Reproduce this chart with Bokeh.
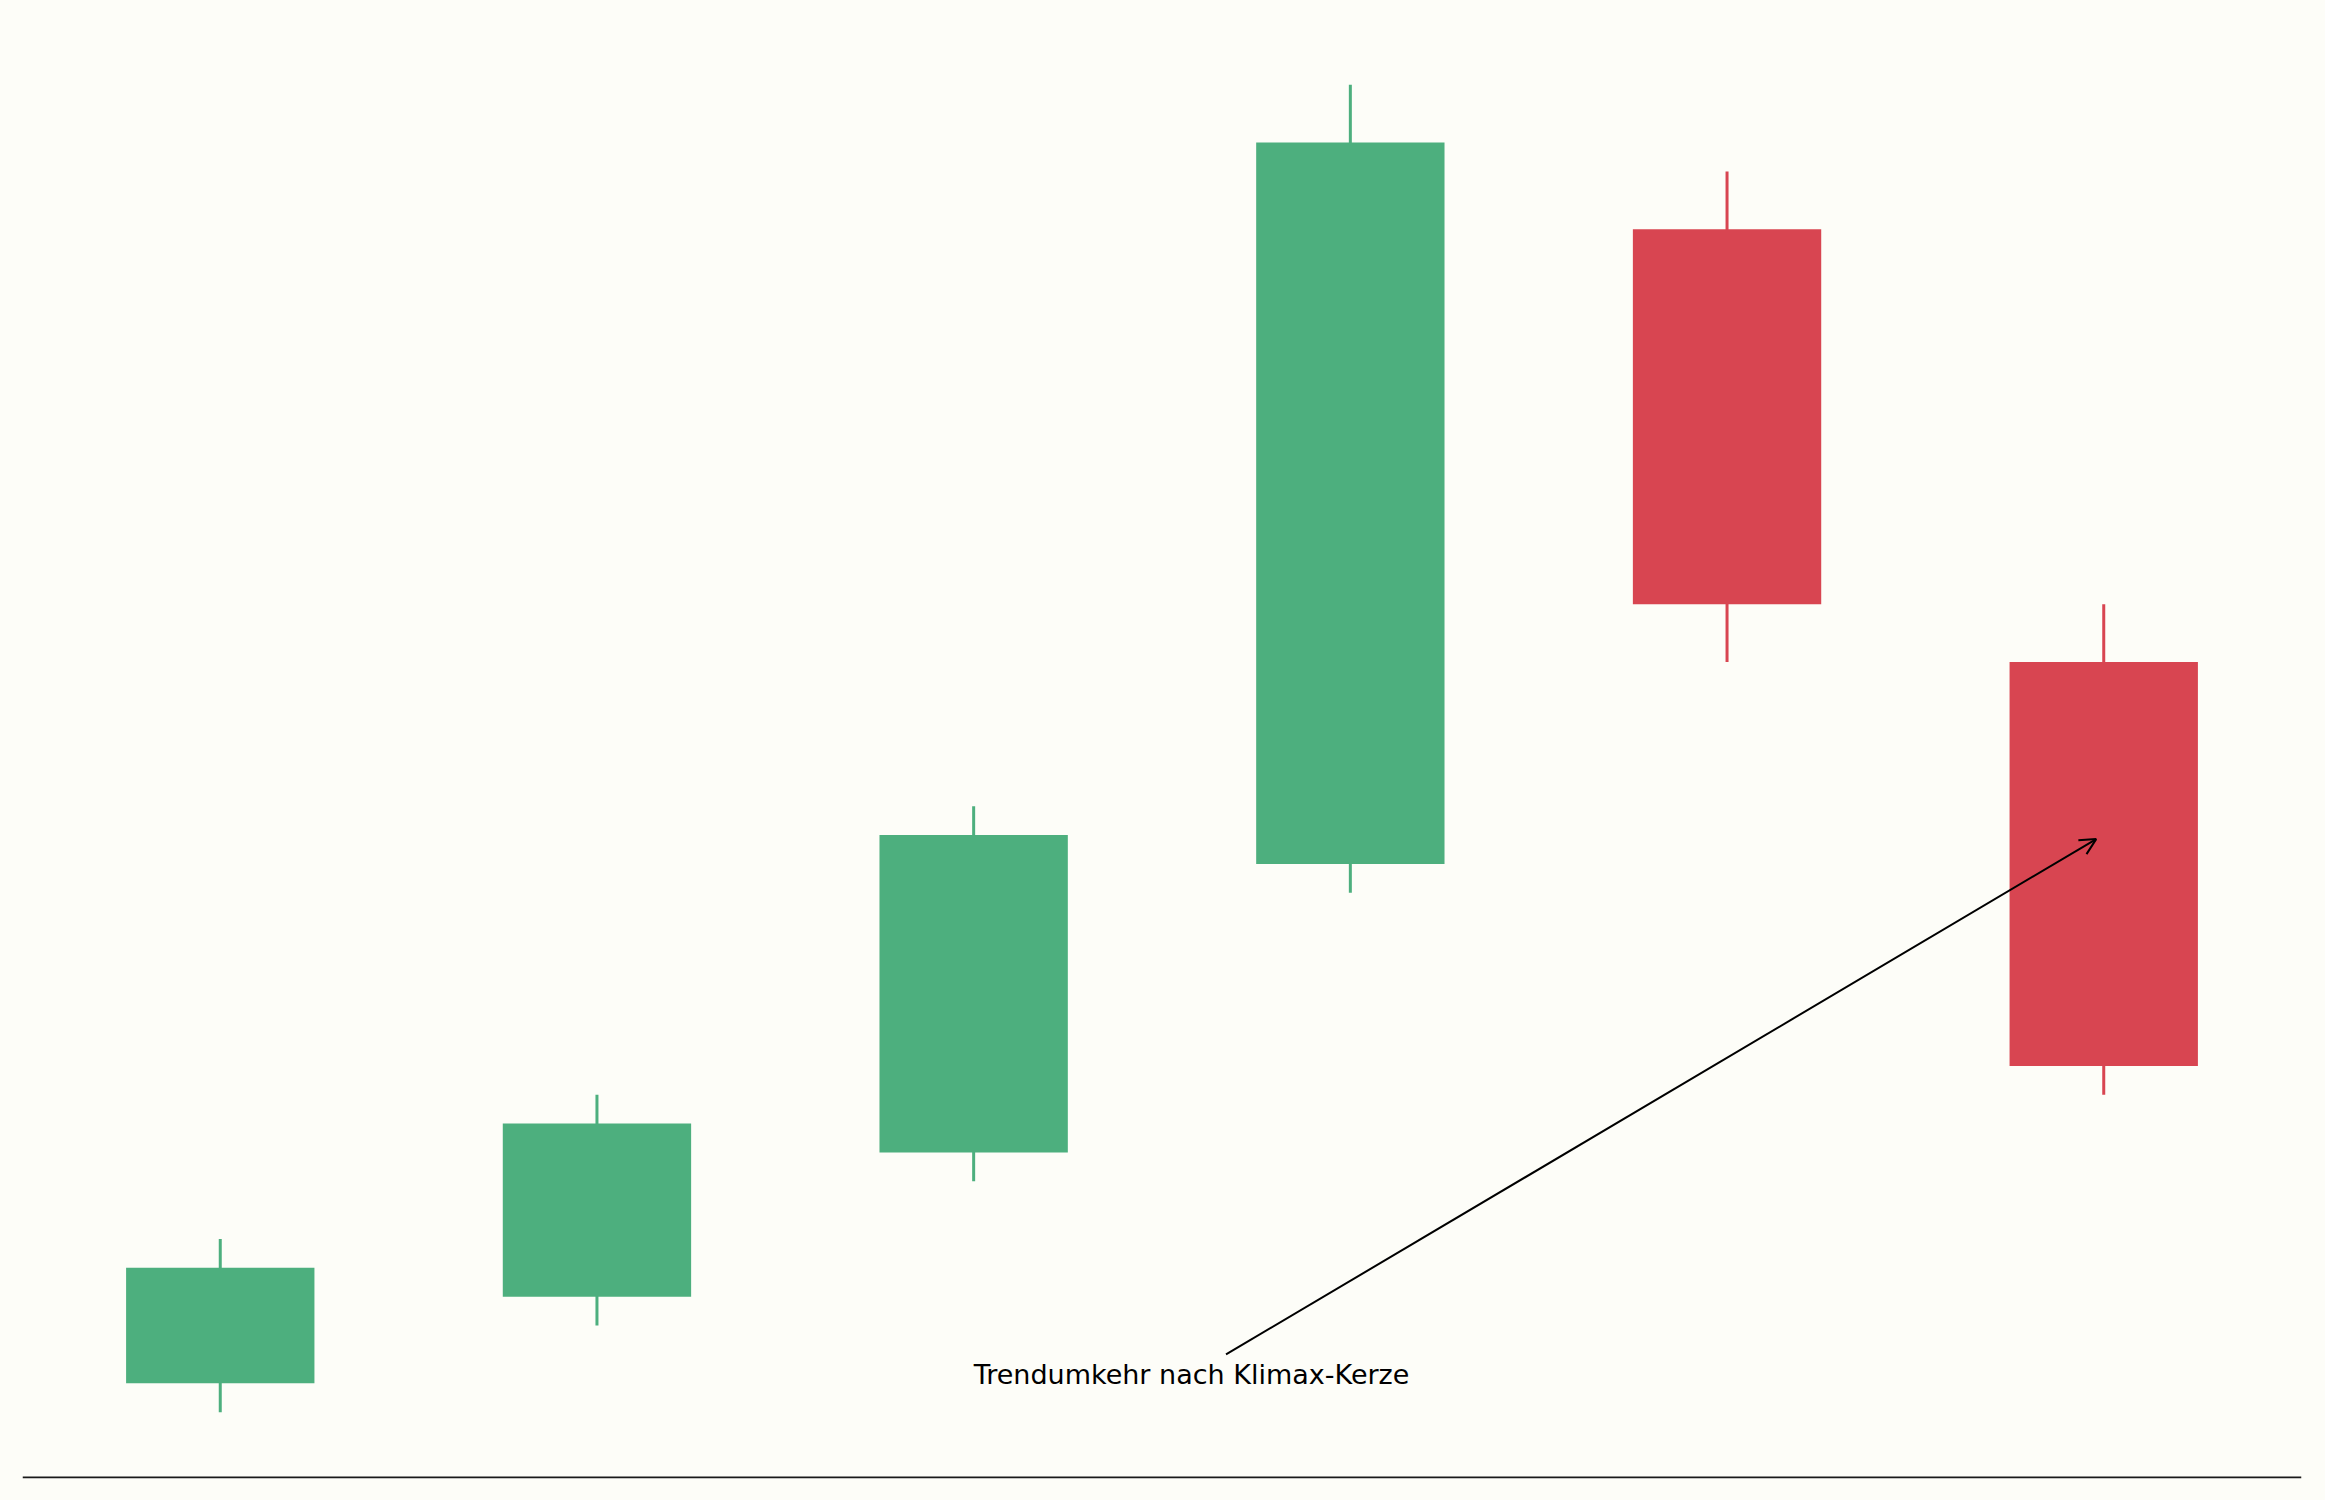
from bokeh.plotting import figure
from bokeh.models import Range1d, Span, Arrow, OpenHead, ColumnDataSource
from bokeh.core.properties import value
from bokeh.embed import file_html
from bokeh.resources import INLINE

# ---- data ----
idx = [0, 1, 2, 3, 4, 5]
opens = [100.0, 101.5, 104.0, 109.0, 120.0, 112.5]
closes = [102.0, 104.5, 109.5, 121.5, 113.5, 105.5]
highs = [102.5, 105.0, 110.0, 122.5, 121.0, 113.5]
lows = [99.5, 101.0, 103.5, 108.5, 112.5, 105.0]

annotation_text = "Trendumkehr nach Klimax-Kerze"
annotation_text_pos = (2.0, 100.0)
annotation_arrow_start = (2.67, 100.5)
annotation_arrow_end = (4.98, 109.43)

GREEN = "#4daf7e"
RED = "#d84551"
BG = "#fdfdf8"

colors = [GREEN if c >= o else RED for o, c in zip(opens, closes)]
src = ColumnDataSource(dict(
    x=idx,
    top=[max(o, c) for o, c in zip(opens, closes)],
    bottom=[min(o, c) for o, c in zip(opens, closes)],
    high=highs,
    low=lows,
    color=colors,
))

y_lo = min(lows) - 0.05 * (max(highs) - min(lows))
y_hi = max(highs) + 0.05 * (max(highs) - min(lows))
x_lo = -0.25 - 0.05 * 5.5
x_hi = 5.25 + 0.05 * 5.5

PLOT_H = 1492
BORDER_TOP, BORDER_BOTTOM = 18, 14
px_per_unit = (PLOT_H - BORDER_TOP - BORDER_BOTTOM) / (y_hi - y_lo)

p = figure(width=2317, height=PLOT_H, output_backend="svg", toolbar_location=None,
           x_range=Range1d(x_lo, x_hi), y_range=Range1d(y_lo, y_hi),
           min_border_left=22, min_border_right=16,
           min_border_top=BORDER_TOP, min_border_bottom=BORDER_BOTTOM)
p.background_fill_color = BG
p.border_fill_color = BG
p.outline_line_color = None
p.xaxis.visible = False
p.yaxis.visible = False
p.xgrid.visible = False
p.ygrid.visible = False

p.segment(x0="x", y0="low", x1="x", y1="high", source=src, line_color="color", line_width=3)
p.vbar(x="x", width=0.5, top="top", bottom="bottom", source=src,
       fill_color="color", line_color=None)

# bottom spine, kept fully inside the frame so it is not clipped
p.add_layout(Span(location=y_lo + 1.0 / px_per_unit, dimension="width",
                  line_color="#1a1a1a", line_width=2))

p.text(x=[annotation_text_pos[0]], y=[annotation_text_pos[1]], text=[annotation_text],
       text_font=value("DejaVu Sans"), text_font_size="27px", text_color="black",
       text_align="left", text_baseline="alphabetic", y_offset=-9)

p.add_layout(Arrow(end=OpenHead(size=16, line_width=2, line_color="black"),
                   x_start=annotation_arrow_start[0], y_start=annotation_arrow_start[1],
                   x_end=annotation_arrow_end[0], y_end=annotation_arrow_end[1],
                   line_color="black", line_width=2))

html = file_html(p, INLINE)
html = html.replace("<head>", "<head><style>html, body { background-color: #fdfdf8; }</style>", 1)
open("out.html", "w").write(html)
